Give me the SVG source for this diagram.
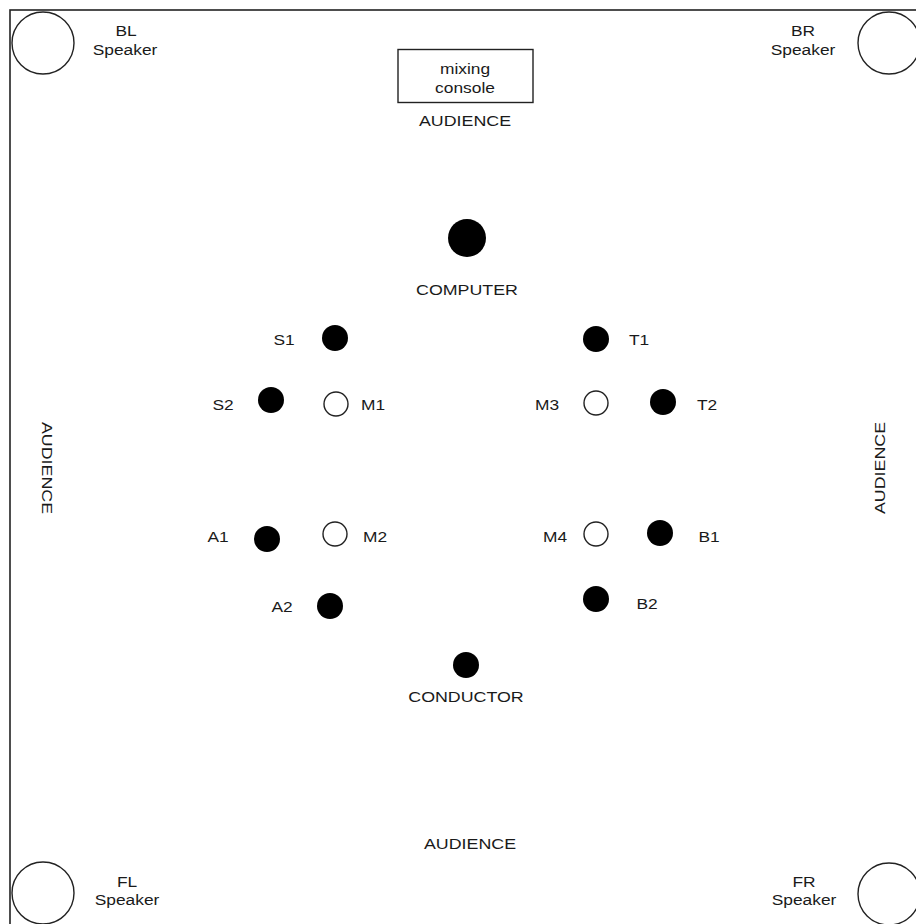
<svg xmlns="http://www.w3.org/2000/svg" width="916" height="924" viewBox="0 0 916 924">
<style>
text{font-family:"Liberation Sans",Arial,sans-serif;font-size:15.5px;fill:#1a1a1a;text-anchor:middle}
.spk{fill:none;stroke:#222;stroke-width:1.4}
.dot{fill:#000}
.mic{fill:#fff;stroke:#222;stroke-width:1.4}
.frame{fill:none;stroke:#222;stroke-width:1.6}
</style>
<rect width="916" height="924" fill="#fff"/>
<rect class="frame" x="10" y="10" width="930" height="930"/>
<g id="bl-speaker"><circle class="spk" cx="43" cy="43" r="31"/><text transform="translate(126,36) scale(1.12,1)">BL</text><text transform="translate(125,55) scale(1.12,1)">Speaker</text></g>
<g id="br-speaker"><circle class="spk" cx="889" cy="43" r="31"/><text transform="translate(803,36) scale(1.12,1)">BR</text><text transform="translate(803,55) scale(1.12,1)">Speaker</text></g>
<g id="fl-speaker"><circle class="spk" cx="43" cy="893" r="31"/><text transform="translate(127,887) scale(1.12,1)">FL</text><text transform="translate(127,905) scale(1.12,1)">Speaker</text></g>
<g id="fr-speaker"><circle class="spk" cx="889" cy="894" r="31"/><text transform="translate(804,887) scale(1.12,1)">FR</text><text transform="translate(804,905) scale(1.12,1)">Speaker</text></g>
<g id="mixing-console"><rect x="398" y="49.5" width="135" height="53" fill="none" stroke="#222" stroke-width="1.4"/><text transform="translate(465,74) scale(1.12,1)">mixing</text><text transform="translate(465,93) scale(1.12,1)">console</text></g>
<g id="audience-top"><text transform="translate(465,126) scale(1.15,1)">AUDIENCE</text></g>
<g id="audience-bottom"><text transform="translate(470,849) scale(1.15,1)">AUDIENCE</text></g>
<g id="audience-left"><text transform="translate(42,468) rotate(90) scale(1.15,1)">AUDIENCE</text></g>
<g id="audience-right"><text transform="translate(885,468) rotate(-90) scale(1.15,1)">AUDIENCE</text></g>
<g id="computer"><circle class="dot" cx="467" cy="238" r="19"/><text transform="translate(467,295) scale(1.15,1)">COMPUTER</text></g>
<g id="s1"><circle class="dot" cx="335" cy="338" r="13"/><text transform="translate(284,345) scale(1.12,1)">S1</text></g>
<g id="s2"><circle class="dot" cx="271" cy="400" r="13"/><text transform="translate(223,410) scale(1.12,1)">S2</text></g>
<g id="m1"><circle class="mic" cx="336" cy="404" r="12"/><text transform="translate(373,410) scale(1.12,1)">M1</text></g>
<g id="t1"><circle class="dot" cx="596" cy="339" r="13"/><text transform="translate(639,345) scale(1.12,1)">T1</text></g>
<g id="m3"><circle class="mic" cx="596" cy="403" r="12"/><text transform="translate(547,410) scale(1.12,1)">M3</text></g>
<g id="t2"><circle class="dot" cx="663" cy="402" r="13"/><text transform="translate(707,410) scale(1.12,1)">T2</text></g>
<g id="a1"><circle class="dot" cx="267" cy="539" r="13"/><text transform="translate(218,542) scale(1.12,1)">A1</text></g>
<g id="m2"><circle class="mic" cx="335" cy="534" r="12"/><text transform="translate(375,542) scale(1.12,1)">M2</text></g>
<g id="a2"><circle class="dot" cx="330" cy="606" r="13"/><text transform="translate(282,612) scale(1.12,1)">A2</text></g>
<g id="m4"><circle class="mic" cx="596" cy="534" r="12"/><text transform="translate(555,542) scale(1.12,1)">M4</text></g>
<g id="b1"><circle class="dot" cx="660" cy="533" r="13"/><text transform="translate(709,542) scale(1.12,1)">B1</text></g>
<g id="b2"><circle class="dot" cx="596" cy="599" r="13"/><text transform="translate(647,609) scale(1.12,1)">B2</text></g>
<g id="conductor"><circle class="dot" cx="466" cy="665" r="13"/><text transform="translate(466,702) scale(1.15,1)">CONDUCTOR</text></g>
<g id="connectors"/>
</svg>
